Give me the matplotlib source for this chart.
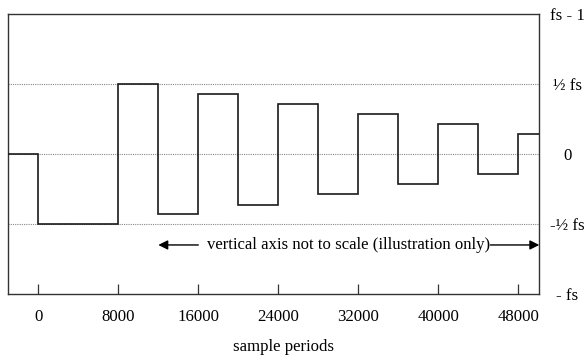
import numpy as np
import matplotlib.pyplot as plt

# step levels (in units of fs) and the sample periods where they change
change_x = [0, 8000, 12000, 16000, 20000, 24000, 28000, 32000, 36000, 40000, 44000, 48000]
levels = [0.0, -0.5, 0.5, -0.43, 0.43, -0.36, 0.36, -0.285, 0.285, -0.215, 0.215, -0.143, 0.143]

x_ticks = [0, 8000, 16000, 24000, 32000, 40000, 48000]
y_ticks = [1.0, 0.5, 0.0, -0.5, -1.0]
y_labels = ["fs - 1", "½ fs", "0", "-½ fs", "- fs"]
grid_levels = [0.5, 0.0, -0.5]

x_min, x_max = -3000, 50100

plt.rcParams.update({
    "font.family": ["Liberation Serif", "DejaVu Serif"],
    "font.size": 12.1,
})

fig = plt.figure(figsize=(5.86, 3.55), dpi=100)
ax = fig.add_axes([0.0142, 0.171, 0.9061, 0.7896])

for g in grid_levels:
    ax.axhline(g, color="#888888", linestyle=(0, (1, 1)), linewidth=0.8, zorder=1)

edges = [x_min] + change_x + [x_max]
ax.stairs(levels, edges, baseline=None, color="#1a1a1a", linewidth=1.2, zorder=3)

ax.set_xlim(x_min, x_max)
ax.set_ylim(-1, 1)
ax.set_xticks(x_ticks)
ax.set_xticklabels([str(v) for v in x_ticks])
ax.tick_params(axis="x", direction="in", length=7.2, width=0.9, color="#333333", pad=10.5)

ax.yaxis.tick_right()
ax.set_yticks(y_ticks)
ax.set_yticklabels(y_labels)
ax.tick_params(axis="y", length=0, pad=20)
for lbl in ax.get_yticklabels():
    lbl.set_horizontalalignment("center")

for s in ax.spines.values():
    s.set_color("#333333")
    s.set_linewidth(1.0)

ax.set_xlabel("sample periods")
ax.xaxis.set_label_coords(0.519, -0.158)

# annotation with arrows on both sides
arrow_y = -0.648
ax.text(31000, arrow_y, "vertical axis not to scale (illustration only)",
        ha="center", va="center", zorder=4)
ax.annotate("", xy=(12000, arrow_y), xytext=(16000, arrow_y),
            arrowprops=dict(arrowstyle="-|>", color="black", lw=1.0,
                            mutation_scale=14, shrinkA=0, shrinkB=0))
ax.annotate("", xy=(x_max, arrow_y), xytext=(45200, arrow_y),
            arrowprops=dict(arrowstyle="-|>", color="black", lw=1.0,
                            mutation_scale=14, shrinkA=0, shrinkB=0))

fig.savefig("out.png", dpi=100)
